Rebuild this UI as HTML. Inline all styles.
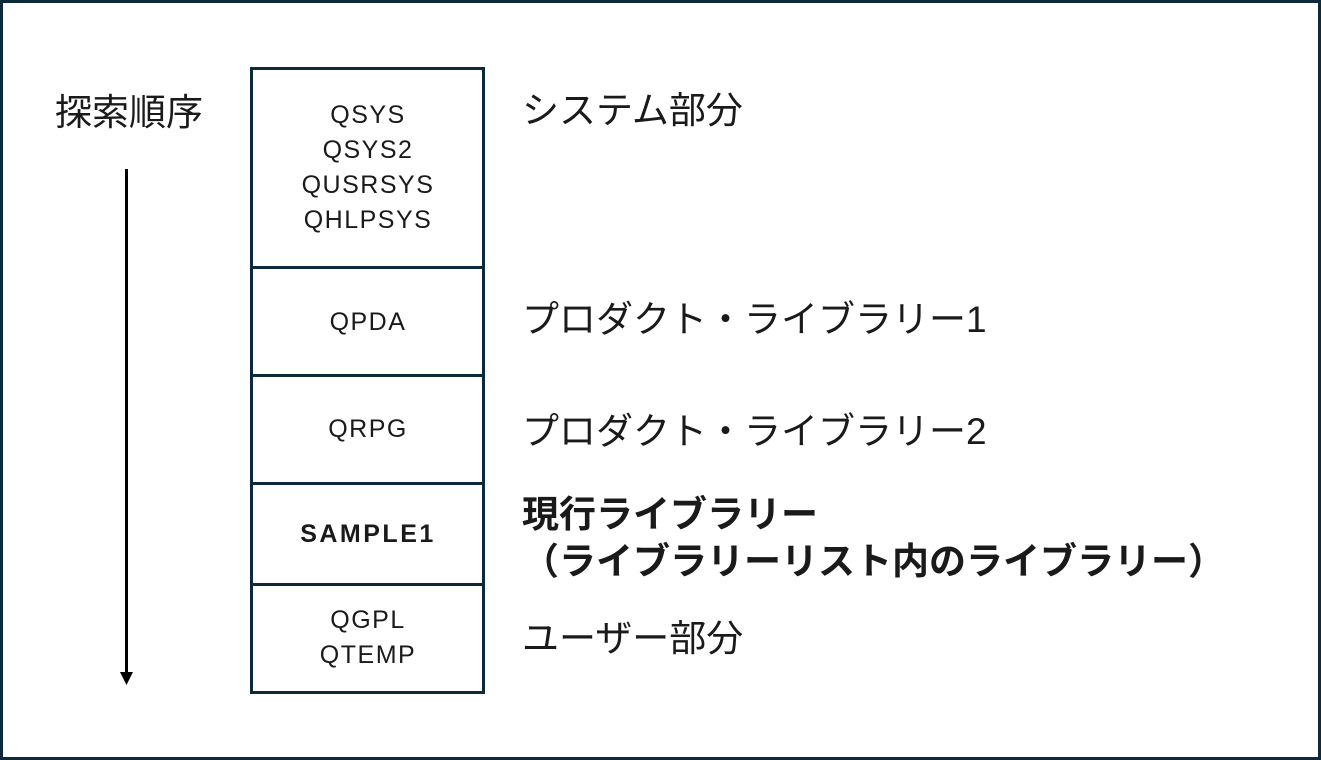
<!DOCTYPE html>
<html><head><meta charset="utf-8"><style>
html,body{margin:0;padding:0;background:#fff;}
svg{display:block;}
text{font-family:"Liberation Sans","Noto Sans CJK JP",sans-serif;fill:#1a1a1a;}
</style></head><body>
<svg width="1321" height="760" viewBox="0 0 1321 760" xmlns="http://www.w3.org/2000/svg">
<rect x="1.5" y="1.5" width="1318" height="757" fill="#fff" stroke="#0d2a3a" stroke-width="3"/>
<rect x="251.5" y="68.5" width="232" height="624" fill="#fff" stroke="#0d2a3a" stroke-width="3"/>
<g stroke="#0d2a3a" stroke-width="3">
<line x1="251" y1="267.5" x2="484" y2="267.5"/>
<line x1="251" y1="375.5" x2="484" y2="375.5"/>
<line x1="251" y1="483.5" x2="484" y2="483.5"/>
<line x1="251" y1="584.5" x2="484" y2="584.5"/>
</g>
<line x1="126.5" y1="169" x2="126.5" y2="674" stroke="#000" stroke-width="3"/>
<polygon points="120,672 133,672 126.5,685" fill="#000"/>
<text x="129" y="125" font-size="37" text-anchor="middle">探索順序</text>
<g font-size="25" text-anchor="middle" letter-spacing="1.5">
<text x="368" y="123">QSYS</text>
<text x="368" y="158">QSYS2</text>
<text x="368" y="193">QUSRSYS</text>
<text x="368" y="228">QHLPSYS</text>
<text x="368" y="330">QPDA</text>
<text x="368" y="437">QRPG</text>
<text x="368" y="542" font-weight="bold" letter-spacing="2.5">SAMPLE1</text>
<text x="368" y="628">QGPL</text>
<text x="368" y="663">QTEMP</text>
</g>
<g font-size="37">
<text x="522" y="123">システム部分</text>
<text x="522" y="332">プロダクト・ライブラリー1</text>
<text x="522" y="444">プロダクト・ライブラリー2</text>
<text x="522" y="527" font-weight="bold">現行ライブラリー</text>
<text x="522" y="574" font-weight="bold">（ライブラリーリスト内のライブラリー）</text>
<text x="522" y="651">ユーザー部分</text>
</g>
</svg>
</body></html>
